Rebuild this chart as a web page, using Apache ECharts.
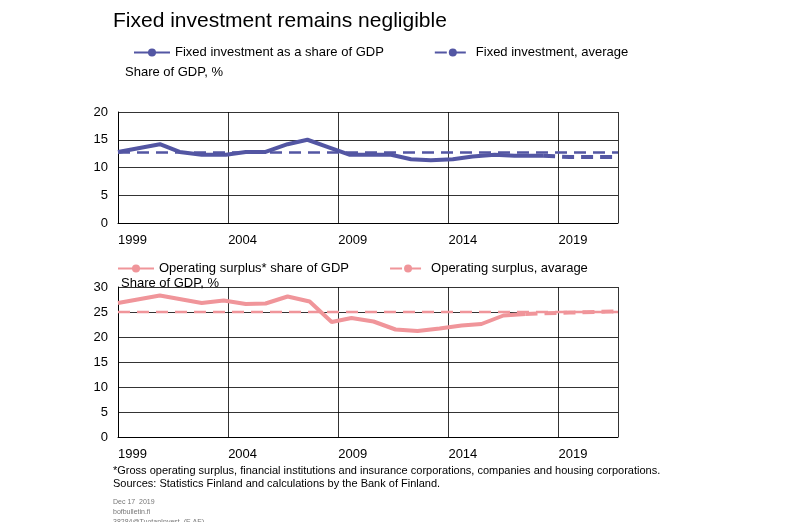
<!DOCTYPE html><html><head><meta charset="utf-8">
<script src="https://cdn.jsdelivr.net/npm/echarts@6/dist/echarts.min.js"></script>
<style>body{margin:0}#c{width:800px;height:522px}</style></head><body><div id="c"></div>
<script>
const invYears=[1999,2000.9,2001.8,2002.8,2003.9,2004.8,2005.7,2006.7,2007.6,2008.6,2009.5,2010.5,2011.4,2012.3,2013.2,2014.2,2015.1,2016.1,2017.0,2018.3];
const invValues=[12.8,14.2,12.8,12.3,12.3,12.8,12.8,14.2,15.0,13.6,12.3,12.3,12.3,11.5,11.3,11.5,12.0,12.3,12.1,12.1];
const invFcYears=[2018.3,2019.5,2021.7];
const invFcValues=[12.1,11.9,11.9];
const invAvg=12.7;
const opYears=[1999,2000.9,2002.8,2003.8,2004.8,2005.7,2006.7,2007.7,2008.7,2009.6,2010.6,2011.6,2012.6,2013.6,2014.6,2015.5,2016.5,2017.5];
const opValues=[26.8,28.3,26.8,27.3,26.6,26.7,28.1,27.1,23.0,23.8,23.1,21.5,21.2,21.7,22.3,22.6,24.3,24.6];
const opFcYears=[2017.5,2019.5,2021.7];
const opFcValues=[24.6,24.9,25.1];
const opAvg=25.0;
const xMin=1999,xMax=2021.7;
const blue='#5356a3',pink='#f0959a';
const ax=(gi)=>({type:'value',gridIndex:gi,min:xMin,max:xMax,interval:5,
 axisLine:{lineStyle:{color:'#000'}},axisTick:{show:false},
 splitLine:{show:true,lineStyle:{color:'#000',width:0.8}},
 axisLabel:{color:'#000',fontSize:13,fontFamily:'Arial',margin:11,align:'left',showMaxLabel:false,formatter:v=>v}});
const ay=(gi,max)=>({type:'value',gridIndex:gi,min:0,max:max,interval:5,
 axisLine:{show:true,lineStyle:{color:'#000'}},axisTick:{show:false},
 splitLine:{lineStyle:{color:'#000',width:0.8}},axisLabel:{color:'#000',fontSize:13,fontFamily:'Arial',margin:10}});
const z=(a,b)=>a.map((x,i)=>[x,b[i]]);
const chart=echarts.init(document.getElementById('c'));
const ln=(name,xi,data,color,w,dash)=>({name,type:'line',xAxisIndex:xi,yAxisIndex:xi,data,symbol:'none',lineStyle:{color,width:w,type:dash?[12,7]:'solid'},itemStyle:{color}});
chart.setOption({animation:false,backgroundColor:'#fff',
 textStyle:{fontFamily:'Arial'},
 title:[{text:'Fixed investment remains negligible',left:108,top:6,textStyle:{fontSize:21,fontWeight:'normal',color:'#000'}},
  {text:'Share of GDP, %',left:120,top:61,textStyle:{fontSize:13,fontWeight:'normal',color:'#000'}},
  {text:'Share of GDP, %',left:116,top:272,textStyle:{fontSize:13,fontWeight:'normal',color:'#000'}},
  {text:'*Gross operating surplus, financial institutions and insurance corporations, companies and housing corporations.\nSources: Statistics Finland and calculations by the Bank of Finland.',left:108,top:459,textStyle:{fontSize:11,fontWeight:'normal',color:'#000',lineHeight:13}},
  {text:'Dec 17  2019\nbofbulletin.fi\n38284@TuotanInvest  (E,AE)',left:108,top:492,textStyle:{fontSize:7,fontWeight:'normal',color:'#777',lineHeight:10}}],
 legend:[{data:['Fixed investment as a share of GDP','Fixed investment, average'],left:128,top:41,itemGap:50,itemWidth:36,itemHeight:10,textStyle:{fontSize:13,color:'#000'}},
  {data:['Operating surplus* share of GDP','Operating surplus, avarage'],left:112,top:257,itemGap:40,itemWidth:36,itemHeight:10,textStyle:{fontSize:13,color:'#000'}}],
 grid:[{left:118,width:500,top:112,height:111},{left:118,width:500,top:287,height:150}],
 xAxis:[ax(0),ax(1)],yAxis:[ay(0,20),ay(1,30)],
 series:[
  ln('Fixed investment as a share of GDP',0,z(invYears,invValues),blue,4,false),
  ln('Fixed investment forecast',0,z(invFcYears,invFcValues),blue,4,true),
  ln('Fixed investment, average',0,[[xMin,invAvg],[xMax,invAvg]],blue,2.5,true),
  ln('Operating surplus* share of GDP',1,z(opYears,opValues),pink,4,false),
  ln('Operating surplus forecast',1,z(opFcYears,opFcValues),pink,4,true),
  ln('Operating surplus, avarage',1,[[xMin,opAvg],[xMax,opAvg]],pink,2.5,true)
 ]});
</script></body></html>
